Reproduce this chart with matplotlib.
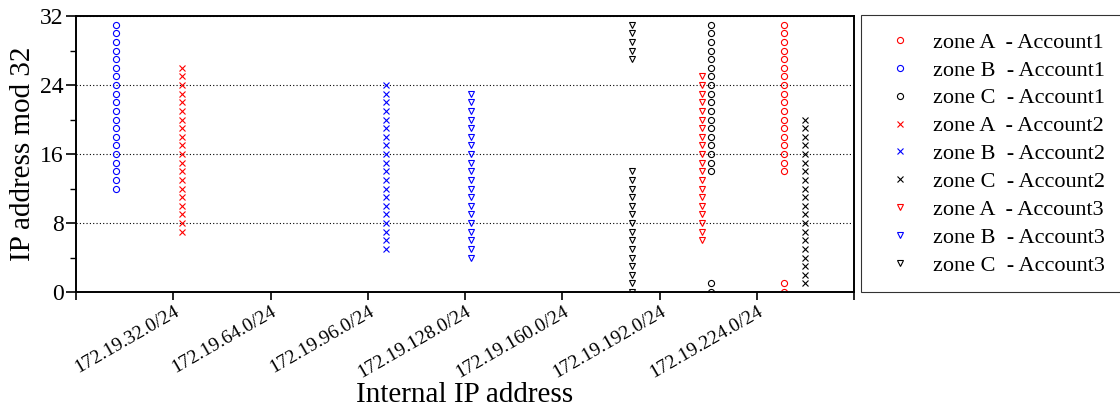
import numpy as np
import matplotlib.pyplot as plt
import matplotlib.transforms as mtransforms

plt.rcParams['font.family'] = ['Liberation Serif', 'DejaVu Serif']

# third octet of each /24 subnet and the host offsets (mod 32) seen in it
x_a1 = 233
y_a1 = list(range(14, 32)) + [0, 1]
x_b1 = 13
y_b1 = list(range(12, 32))
x_c1 = 209
y_c1 = list(range(14, 32)) + [0, 1]

x_a2 = 35
y_a2 = list(range(7, 27))
x_b2 = 102
y_b2 = list(range(5, 25))
x_c2 = 240
y_c2 = list(range(1, 21))

x_a3 = 206
y_a3 = list(range(6, 26))
x_b3 = 130
y_b3 = list(range(4, 24))
x_c3 = 183
y_c3 = list(range(0, 15)) + list(range(27, 32))

tick_pos = [0, 32, 64, 96, 128, 160, 192, 224, 256]
tick_lbl = ['', '172.19.32.0/24', '172.19.64.0/24', '172.19.96.0/24',
            '172.19.128.0/24', '172.19.160.0/24', '172.19.192.0/24',
            '172.19.224.0/24', '']

series = [
    (x_a1, y_a1, 'o', 'red', 'zone A  - Account1'),
    (x_b1, y_b1, 'o', 'blue', 'zone B  - Account1'),
    (x_c1, y_c1, 'o', 'black', 'zone C  - Account1'),
    (x_a2, y_a2, 'x', 'red', 'zone A  - Account2'),
    (x_b2, y_b2, 'x', 'blue', 'zone B  - Account2'),
    (x_c2, y_c2, 'x', 'black', 'zone C  - Account2'),
    (x_a3, y_a3, 'v', 'red', 'zone A  - Account3'),
    (x_b3, y_b3, 'v', 'blue', 'zone B  - Account3'),
    (x_c3, y_c3, 'v', 'black', 'zone C  - Account3'),
]

fig = plt.figure(figsize=(11.2, 4.12), dpi=100)
ax = fig.add_axes([76/1120, 1 - 292/412, 778/1120, 276/412])

for xv, yv, m, c, lbl in series:
    ax.plot([xv] * len(yv), yv, linestyle='none', marker=m, markersize=4.4,
            markerfacecolor='none', markeredgecolor=c, markeredgewidth=0.8,
            label=lbl)

ax.set_xlim(0, 256)
ax.set_ylim(0, 32)
ax.set_yticks([0, 8, 16, 24, 32])
ax.set_yticks(np.arange(4, 32, 8), minor=True)
ax.set_xticks(tick_pos)
ax.set_xticklabels(tick_lbl, rotation=30, ha='right', fontsize=14)

ax.grid(axis='y', which='major', linestyle=(0, (1, 2)), color='black', linewidth=0.8)
ax.tick_params(axis='x', which='major', direction='out', length=6, width=1.2, pad=2)
ax.tick_params(axis='y', which='major', direction='out', length=7, width=1.2)
ax.tick_params(axis='y', which='minor', direction='out', length=4.5, width=1.0)
ax.tick_params(axis='y', labelsize=17, pad=2)
for s in ax.spines.values():
    s.set_linewidth(1.4)

# nudge the rotated labels so their end sits just right of the tick
# (done after tick_params, which resets the label transforms)
shift = mtransforms.ScaledTranslation(9/100, 0, fig.dpi_scale_trans)
for t in ax.get_xticklabels():
    t.set_transform(t.get_transform() + shift)

ax.set_ylabel('IP address mod 32', fontsize=21, labelpad=3)
ax.set_xlabel('Internal IP address', fontsize=21, labelpad=0)

leg = fig.legend(loc='upper left', bbox_to_anchor=(861/1120, 1 - 15.5/412),
                 fontsize=16, frameon=True, fancybox=False, edgecolor='black',
                 labelspacing=0.33, handlelength=2.0, handletextpad=0.47,
                 borderpad=0.75, borderaxespad=0, markerscale=1.0)
leg.get_frame().set_linewidth(0.8)

fig.savefig('out.png', dpi=100)
